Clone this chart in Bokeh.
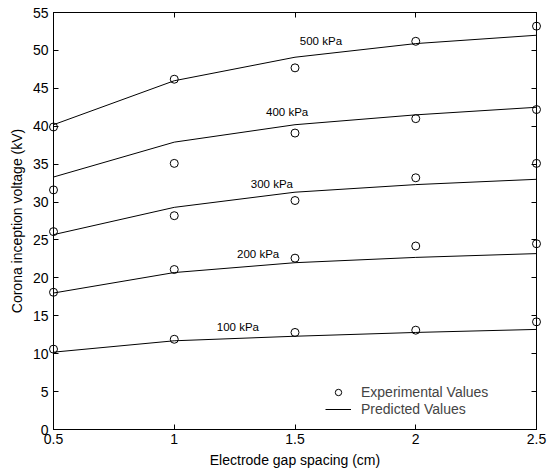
from bokeh.plotting import figure
from bokeh.models import (LinearAxis, FixedTicker, Range1d, Legend, LegendItem,
                          ColumnDataSource, LabelSet)
from bokeh.core.properties import value
from bokeh.embed import file_html
from bokeh.resources import INLINE

# ---- data ----
gap_cm = [0.5, 1.0, 1.5, 2.0, 2.5]
pressures = ["100 kPa", "200 kPa", "300 kPa", "400 kPa", "500 kPa"]

exp_100 = [10.6, 11.9, 12.8, 13.1, 14.2]
exp_200 = [18.1, 21.1, 22.6, 24.2, 24.5]
exp_300 = [26.1, 28.2, 30.2, 33.2, 35.1]
exp_400 = [31.6, 35.1, 39.1, 41.0, 42.2]
exp_500 = [39.9, 46.2, 47.7, 51.2, 53.2]

pred_100 = [10.2, 11.7, 12.3, 12.8, 13.2]
pred_200 = [18.0, 20.7, 22.0, 22.7, 23.2]
pred_300 = [25.7, 29.3, 31.3, 32.3, 33.0]
pred_400 = [33.3, 37.9, 40.2, 41.5, 42.5]
pred_500 = [40.2, 46.0, 49.1, 50.9, 52.0]

x_ticks = [0.5, 1, 1.5, 2, 2.5]
y_ticks = [0, 5, 10, 15, 20, 25, 30, 35, 40, 45, 50, 55]

# label anchor positions (left edge, vertical centre) for the pressure annotations
label_x = [1.176, 1.26, 1.317, 1.38, 1.52]
label_y = [13.5, 23.2, 32.4, 41.9, 51.3]

experimental = [exp_100, exp_200, exp_300, exp_400, exp_500]
predicted = [pred_100, pred_200, pred_300, pred_400, pred_500]

FONT = "Liberation Sans"

p = figure(width=547, height=474, output_backend="svg", toolbar_location=None,
           x_range=Range1d(0.5, 2.5), y_range=Range1d(0, 55),
           min_border_left=53, min_border_right=11, min_border_top=12,
           min_border_bottom=45)
p.background_fill_color = "white"
p.border_fill_color = "white"
p.outline_line_color = "black"
p.outline_line_width = 1
p.grid.visible = False

line_renderers = []
scatter_renderers = []
for pred, ex in zip(predicted, experimental):
    lr = p.line(gap_cm, pred, line_color="black", line_width=1)
    sr = p.scatter(gap_cm, ex, marker="circle", size=8, fill_color=None,
                   line_color="black", line_width=1, level="overlay")
    line_renderers.append(lr)
    scatter_renderers.append(sr)

src = ColumnDataSource(dict(x=label_x, y=label_y, t=pressures))
p.add_layout(LabelSet(x="x", y="y", text="t", source=src,
                      text_font=value(FONT), text_font_size=value("11.5px"),
                      text_baseline="middle", text_align="left",
                      text_color="black"))

def style_axis(ax, ticks, show_labels=True):
    ax.ticker = FixedTicker(ticks=ticks)
    ax.major_tick_in = 5
    ax.major_tick_out = 0
    ax.minor_tick_line_color = None
    ax.axis_line_color = "black"
    ax.major_tick_line_color = "black"
    if show_labels:
        ax.major_label_text_font = FONT
        ax.major_label_text_font_size = "14px"
        ax.major_label_text_color = "black"
        ax.axis_label_text_font = FONT
        ax.axis_label_text_font_size = "14px"
        ax.axis_label_text_font_style = "normal"
        ax.axis_label_text_color = "black"
    else:
        ax.major_label_text_font_size = "1px"
        ax.major_label_text_color = None
        ax.major_label_standoff = 0
        ax.axis_label_standoff = 0

style_axis(p.xaxis[0], x_ticks)
style_axis(p.yaxis[0], y_ticks)
p.xaxis[0].axis_label = "Electrode gap spacing (cm)"
p.yaxis[0].axis_label = "Corona inception voltage (kV)"
p.xaxis[0].major_label_standoff = 4
p.xaxis[0].axis_label_standoff = 5
p.yaxis[0].major_label_standoff = 5
p.yaxis[0].axis_label_standoff = 5

top = LinearAxis()
style_axis(top, x_ticks, show_labels=False)
p.add_layout(top, "above")
right = LinearAxis()
style_axis(right, y_ticks, show_labels=False)
p.add_layout(right, "right")

legend = Legend(items=[LegendItem(label="Experimental Values", renderers=[scatter_renderers[0]]),
                       LegendItem(label="Predicted Values", renderers=[line_renderers[0]])],
                location=(272, 12))
legend.border_line_color = None
legend.background_fill_alpha = 0
legend.label_text_font = FONT
legend.label_text_font_size = "14px"
legend.glyph_width = 26
legend.glyph_height = 16
legend.label_standoff = 10
legend.spacing = 1
legend.padding = 0
legend.margin = 0
p.add_layout(legend)

open("out.html", "w").write(file_html(p, INLINE))
